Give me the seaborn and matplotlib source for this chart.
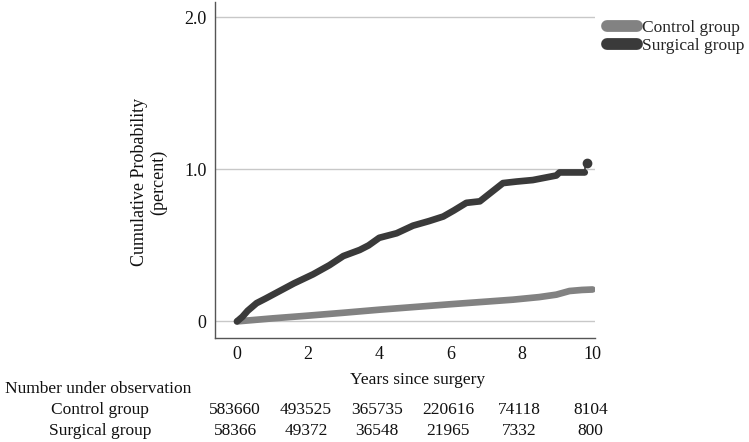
import matplotlib
matplotlib.use("Agg")
import matplotlib.pyplot as plt
import seaborn as sns
import pandas as pd
from matplotlib.lines import Line2D

# Data
surg_t = [0.0, 0.15, 0.3, 0.55, 0.8, 1.2, 1.6, 2.14, 2.6, 2.99, 3.45, 3.7, 4.0, 4.49, 4.95, 5.4, 5.8,
          6.1, 6.45, 6.83, 7.1, 7.48, 7.86, 8.32, 8.98, 9.07, 9.78]
surg_p = [0.0, 0.03, 0.07, 0.12, 0.15, 0.2, 0.25, 0.31, 0.37, 0.43, 0.47, 0.5, 0.55, 0.58, 0.63, 0.66, 0.69,
          0.73, 0.78, 0.79, 0.84, 0.91, 0.92, 0.93, 0.96, 0.98, 0.98]
surg_end_t = [9.78, 9.78]
surg_end_p = [0.98, 1.04]
ctrl_t = [0.0, 1.0, 2.0, 3.0, 4.0, 5.0, 6.0, 7.0, 7.76, 8.5, 8.98, 9.35, 9.7, 10.0]
ctrl_p = [0.0, 0.02, 0.038, 0.057, 0.077, 0.095, 0.113, 0.13, 0.143, 0.16, 0.176, 0.2, 0.207, 0.21]

groups = ["Control group", "Surgical group"]
tick_years = [0, 2, 4, 6, 8, 10]
n_control = [583660, 493525, 365735, 220616, 74118, 8104]
n_surgical = [58366, 49372, 36548, 21965, 7332, 800]

df = pd.concat([
    pd.DataFrame({"t": ctrl_t, "p": ctrl_p, "group": groups[0]}),
    pd.DataFrame({"t": surg_t, "p": surg_p, "group": groups[1]}),
])

sns.set_theme(style="white")
plt.rcParams["font.family"] = ["Liberation Serif", "DejaVu Serif"]

colors = {"Control group": "#828282", "Surgical group": "#3a3a3a"}

fig = plt.figure(figsize=(7.49, 4.42), dpi=100)
ax = fig.add_axes([0.287, 0.235, 0.507, 0.760])

sns.lineplot(data=df, x="t", y="p", hue="group", palette=colors, ax=ax,
             linewidth=4.8, legend=False, estimator=None, sort=False,
             solid_capstyle="round", solid_joinstyle="round")
ax.plot(surg_end_t, surg_end_p, color=colors["Surgical group"], linewidth=1.2)
ax.plot([9.84], [1.045], "o", color=colors["Surgical group"], markersize=6)

ax.set_xlim(-0.62, 10.06)
ax.set_ylim(-0.11, 2.1)
ax.set_yticks([0, 1.0, 2.0])
ax.set_yticklabels(["0", "1.0", "2.0"])
ax.set_xticks(tick_years)
ax.tick_params(axis="both", length=0, labelsize=13, colors="#111111", pad=6)
ax.yaxis.grid(True, color="#c8c8c8", linewidth=1)
ax.xaxis.grid(False)
for s in ["top", "right"]:
    ax.spines[s].set_visible(False)
for s in ["left", "bottom"]:
    ax.spines[s].set_color("#555555")
    ax.spines[s].set_linewidth(1)

ax.set_xlabel("")
ax.set_ylabel("")
fig.text(149 / 749, 1 - 182 / 442, "Cumulative Probability\n(percent)", rotation=90,
         ha="center", va="center", fontsize=13, color="#111111", linespacing=1.1)
fig.text(418 / 749, 1 - 380 / 442, "Years since surgery", ha="center", va="center",
         fontsize=12.5, color="#111111")

# number under observation table
fs = 12.5
fig.text(5 / 749, 1 - 389 / 442, "Number under observation", ha="left", va="center",
         fontsize=fs, color="#111111")
fig.text(100 / 749, 1 - 410 / 442, groups[0], ha="center", va="center", fontsize=fs, color="#111111")
fig.text(100 / 749, 1 - 431 / 442, groups[1], ha="center", va="center", fontsize=fs, color="#111111")
for yr, a, b in zip(tick_years, n_control, n_surgical):
    xf = ax.transData.transform((yr, 0))[0] / fig.bbox.width
    fig.text(xf - 2 / 749, 1 - 410 / 442, str(a), ha="center", va="center", fontsize=fs, color="#111111")
    fig.text(xf - 2 / 749, 1 - 431 / 442, str(b), ha="center", va="center", fontsize=fs, color="#111111")

handles = [Line2D([0], [0], color=colors[g], linewidth=8.5, solid_capstyle="round") for g in groups]
fig.legend(handles, groups, loc="upper left", bbox_to_anchor=(607 / 749, 1 - 20 / 442),
           frameon=False, fontsize=12.5, handlelength=1.75, handletextpad=0.25,
           labelspacing=0.1, borderaxespad=0, borderpad=0)

fig.savefig("out.png", dpi=100)
